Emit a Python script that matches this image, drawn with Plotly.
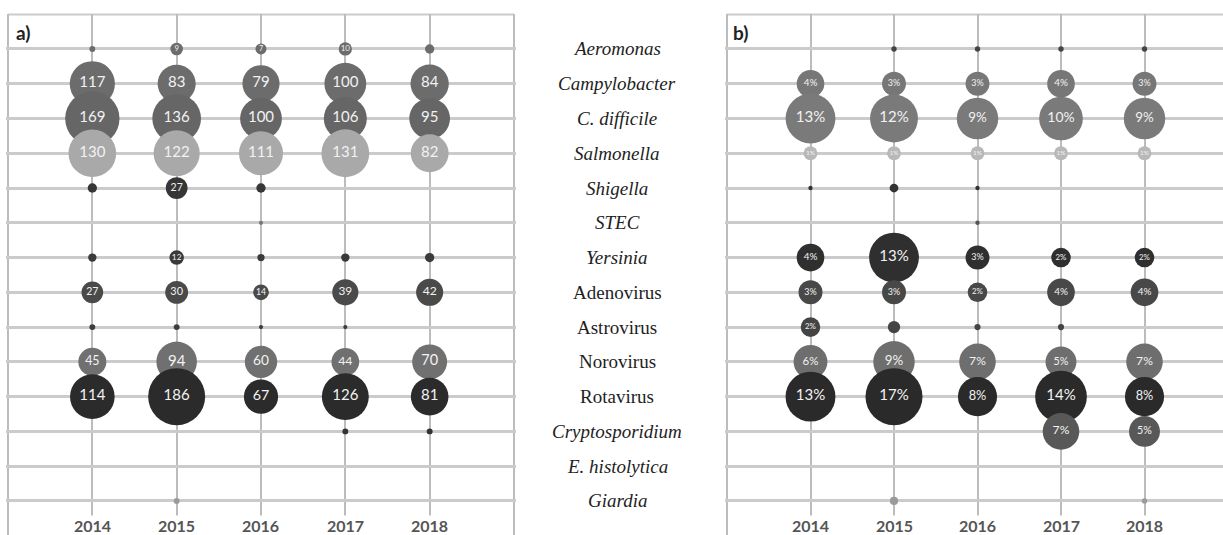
import numpy as np
import plotly.graph_objects as go

# Pathogens, top to bottom
pathogens = ["Aeromonas", "Campylobacter", "C. difficile", "Salmonella", "Shigella",
             "STEC", "Yersinia", "Adenovirus", "Astrovirus", "Norovirus", "Rotavirus",
             "Cryptosporidium", "E. histolytica", "Giardia"]
# viruses are set in roman, bacteria and parasites in italics
italic_names = [True, True, True, True, True, True, True,
                False, False, False, False,
                True, True, True]
years = [2014, 2015, 2016, 2017, 2018]
year_labels = ["2014", "2015", "2016", "2017", "2018"]

# a) number of positive detections, one list per year (pathogen order above)
cases_2014 = [2, 117, 169, 130, 5, 0, 4, 27, 2, 45, 114, 0, 0, 0]
cases_2015 = [9, 83, 136, 122, 27, 0, 12, 30, 2, 94, 186, 0, 0, 2]
cases_2016 = [7, 79, 100, 111, 5, 1, 3, 14, 1, 60, 67, 0, 0, 0]
cases_2017 = [10, 100, 106, 131, 0, 0, 4, 39, 1, 44, 126, 2, 0, 0]
cases_2018 = [5, 84, 95, 82, 0, 0, 5, 42, 0, 70, 81, 2, 0, 0]

# b) share of detections (%), one list per year
share_2014 = [0, 4, 13, 1, 0.1, 0, 4, 3, 2, 6, 13, 0, 0, 0]
share_2015 = [0.15, 3, 12, 1, 0.4, 0, 13, 3, 0.8, 9, 17, 0, 0, 0.35]
share_2016 = [0.15, 3, 9, 1, 0.1, 0.1, 3, 2, 0.2, 7, 8, 0, 0, 0]
share_2017 = [0.15, 4, 10, 1, 0, 0, 2, 4, 0.2, 5, 14, 7, 0, 0]
share_2018 = [0.15, 3, 9, 1, 0, 0, 2, 4, 0, 7, 8, 5, 0, 0.15]

cases = [cases_2014, cases_2015, cases_2016, cases_2017, cases_2018]
shares = [share_2014, share_2015, share_2016, share_2017, share_2018]

# fill shade of each pathogen row in the two panels
colors_a = ["#6c6c6c", "#6c6c6c", "#666666", "#a9a9a9", "#363636", "#777777", "#3a3a3a",
            "#4a4a4a", "#3c3c3c", "#707070", "#2b2b2b", "#333333", "#555555", "#9a9a9a"]
colors_b = ["#444444", "#777777", "#7a7a7a", "#b8b8b8", "#333333", "#555555", "#2f2f2f",
            "#484848", "#444444", "#6e6e6e", "#2a2a2a", "#585858", "#555555", "#9a9a9a"]

MAX_DIAMETER = 57  # px, for the largest bubble of a panel
W, H = 1223, 535

fig = go.Figure()


def add_panel(table, colors, xaxis, yaxis, label_min, fmt, text_k, text_c):
    vmax = max(max(col) for col in table)
    xs, ys, sizes, fills, texts, tsizes = [], [], [], [], [], []
    # rows later in the list are drawn over the rows above them
    for r in range(len(pathogens)):
        for c, yr in enumerate(years):
            v = table[c][r]
            if v <= 0:
                continue
            d = MAX_DIAMETER * np.sqrt(v / vmax)
            xs.append(yr)
            ys.append(r)
            sizes.append(d)
            fills.append(colors[r])
            texts.append(fmt(v) if v >= label_min else "")
            tsizes.append(float(min(15.0, max(5.0, text_k * d + text_c))))
    fig.add_trace(go.Scatter(
        x=xs, y=ys, mode="markers+text", xaxis=xaxis, yaxis=yaxis,
        marker=dict(size=sizes, sizemode="diameter", color=fills,
                    line=dict(width=0), opacity=1),
        text=texts, textposition="middle center",
        textfont=dict(family="Lato", size=tsizes, color="#f2f2f2"),
        hoverinfo="skip", cliponaxis=False,
    ))


add_panel(cases, colors_a, "x", "y", 6, lambda v: f"{v:g}", 0.3, 4.0)
add_panel(shares, colors_b, "x2", "y2", 1, lambda v: f"{v:g}%", 0.25, 3.0)

# axis geometry (pixels)
ppy_a, x0_a = 84.33, 8.0
ppy_b, x0_b = 83.5, 727.0
pad = 0.02
top_px = 13.5
yrange = [13.98, -1.02]
row_px = (H - top_px) / (yrange[0] - yrange[1])

grid_v = dict(showgrid=True, gridcolor="#bcbcbc", gridwidth=2, zeroline=False,
              showticklabels=False, ticks="", showline=False, tickmode="array",
              tickvals=[2013, 2014, 2015, 2016, 2017, 2018, 2019])
grid_h = dict(showgrid=True, gridcolor="#cbcbcb", gridwidth=2.5, zeroline=False,
              showticklabels=False, ticks="", showline=False, tickmode="array",
              tickvals=list(range(-1, len(pathogens))), range=yrange,
              domain=[0, 1 - top_px / H])

fig.update_layout(
    width=W, height=H, margin=dict(l=0, r=0, t=0, b=0),
    plot_bgcolor="white", paper_bgcolor="white", showlegend=False,
    xaxis=dict(grid_v, domain=[(x0_a - pad * ppy_a) / W, (x0_a + (6 + pad) * ppy_a) / W],
               range=[2013 - pad, 2019 + pad], anchor="y"),
    yaxis=dict(grid_h, anchor="x"),
    xaxis2=dict(grid_v, domain=[(x0_b - pad * ppy_b) / W, 1.0],
                range=[2013 - pad, 2013 + (W - x0_b) / ppy_b], anchor="y2"),
    yaxis2=dict(grid_h, anchor="x2"),
)

# top border of each panel
fig.add_shape(type="line", xref="x", yref="y", x0=2013, x1=2019, y0=-1, y1=-1,
              line=dict(color="#cbcbcb", width=2.5), layer="below")
fig.add_shape(type="line", xref="x2", yref="y2", x0=2013, x1=2013 + (W - x0_b) / ppy_b,
              y0=-1, y1=-1, line=dict(color="#cbcbcb", width=2.5), layer="below")

annotations = []
# year labels at the foot of each panel
label_y = (525 - top_px) / row_px + yrange[1]
for xr, yr_ in (("x", "y"), ("x2", "y2")):
    for yv, lab in zip(years, year_labels):
        annotations.append(dict(
            x=yv, y=label_y, xref=xr, yref=yr_, text=f"<b>{lab}</b>", showarrow=False,
            font=dict(family="Lato", size=16, color="#555555"),
            bgcolor="white", borderpad=0, xanchor="center", yanchor="middle"))

# pathogen names between the panels
for r, (name, it) in enumerate(zip(pathogens, italic_names)):
    annotations.append(dict(
        x=617 / W, y=r, xref="paper", yref="y",
        text=f"<i>{name}</i>" if it else name, showarrow=False,
        font=dict(family="Liberation Serif", size=19, color="#1e1e1e"),
        xanchor="center", yanchor="middle"))

# panel tags
for tag, px in (("a)", 14), ("b)", 731)):
    annotations.append(dict(
        x=px / W, y=1 - 32 / H, xref="paper", yref="paper", text=f"<b>{tag}</b>",
        showarrow=False, font=dict(family="Lato", size=19, color="#222222"),
        xanchor="left", yanchor="middle"))

fig.update_layout(annotations=annotations)

fig.write_html("out.html")
